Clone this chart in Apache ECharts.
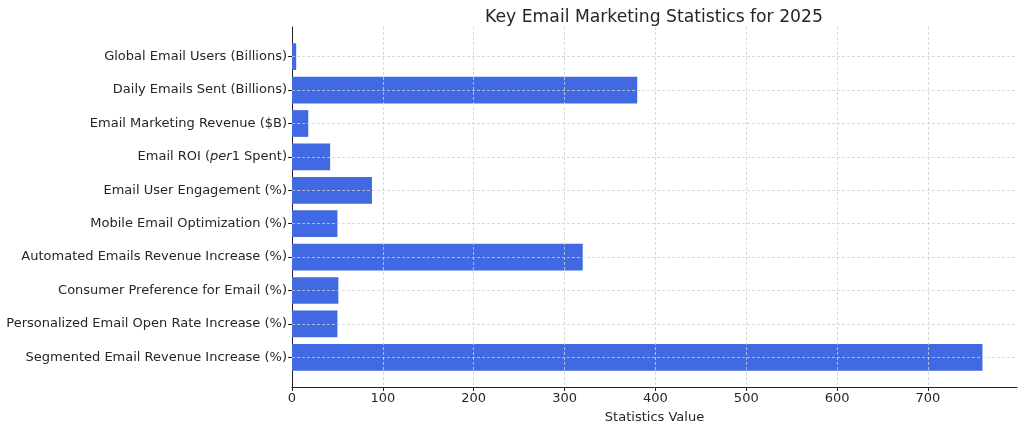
<!DOCTYPE html>
<html lang="en">
<head>
    <meta charset="UTF-8">
    <title>Key Email Marketing Statistics for 2025</title>
    <script src="https://cdn.jsdelivr.net/npm/echarts@6/dist/echarts.min.js"></script>
    <style>
        html, body { margin: 0; padding: 0; background: #fff; }
    </style>
</head>
<body>
<div id="main" style="width: 1024px;height:429px;"></div>

<script>
    // 类目（从上到下）
    var categories = [
        'Global Email Users (Billions)',
        'Daily Emails Sent (Billions)',
        'Email Marketing Revenue ($B)',
        'Email ROI (per1 Spent)',
        'Email User Engagement (%)',
        'Mobile Email Optimization (%)',
        'Automated Emails Revenue Increase (%)',
        'Consumer Preference for Email (%)',
        'Personalized Email Open Rate Increase (%)',
        'Segmented Email Revenue Increase (%)'
    ];
    // 数值
    var values = [4.6, 380, 17.9, 42, 88, 50, 320, 51, 50, 760];
    var xMax = 798;

    var myChart = echarts.init(document.getElementById('main'));
    var font = 'DejaVu Sans';
    var fs = 13;

    var option = {
        animation: false,
        title: {
            text: 'Key Email Marketing Statistics for 2025',
            left: 649, top: 4, textAlign: 'center',
            textStyle: { fontFamily: font, fontSize: 17.2, fontWeight: 'normal', color: '#262626' }
        },
        grid: [
            { left: 292, right: 7, top: 27, bottom: 42 },   // 外框 + x轴
            { left: 292, right: 7, top: 40, height: 334 }   // 柱子
        ],
        xAxis: [{
            gridIndex: 0, type: 'value', min: 0, max: xMax, interval: 100, z: 3,
            name: 'Statistics Value', nameLocation: 'middle', nameGap: 24,
            nameTextStyle: { fontFamily: font, fontSize: fs, color: '#262626' },
            axisLine: { show: true, lineStyle: { color: '#222', width: 1 } },
            axisTick: { show: true, length: 4, lineStyle: { color: '#222' } },
            axisLabel: { fontFamily: font, fontSize: fs, color: '#262626', margin: 5,
                showMaxLabel: false },
            splitLine: { show: true, showMinLine: false, showMaxLine: false,
                lineStyle: { type: [3, 2], color: '#d0d0d0', width: 0.8 } }
        }, {
            gridIndex: 1, type: 'value', min: 0, max: xMax, show: false
        }],
        yAxis: [{
            gridIndex: 0, type: 'value', min: 0, max: 1,
            axisLine: { show: true, lineStyle: { color: '#222', width: 1 } },
            axisTick: { show: false }, axisLabel: { show: false }, splitLine: { show: false }
        }, {
            gridIndex: 1, type: 'category', data: categories, inverse: true, z: 3,
            axisLine: { show: false },
            axisTick: { show: true, alignWithLabel: true, length: 4, lineStyle: { color: '#222' } },
            axisLabel: {
                fontFamily: font, fontSize: fs, color: '#262626', margin: 5,
                formatter: function (v) {
                    if (v.indexOf('(per') >= 0) {
                        var parts = v.split('(per');
                        return '{n|' + parts[0] + '(}{i|per}{n|' + parts[1] + '}';
                    }
                    return v;
                },
                rich: {
                    n: { fontFamily: font, fontSize: fs, color: '#262626' },
                    i: { fontFamily: font, fontSize: fs, color: '#262626', fontStyle: 'italic' }
                }
            },
            splitLine: { show: true, alignWithLabel: true,
                lineStyle: { type: [3, 2], color: '#d0d0d0', width: 0.8 } }
        }],
        series: [{
            type: 'bar', xAxisIndex: 1, yAxisIndex: 1,
            data: values, barWidth: '80%',
            itemStyle: { color: '#4169E1' }
        }]
    };

    myChart.setOption(option);
</script>
</body>
</html>
